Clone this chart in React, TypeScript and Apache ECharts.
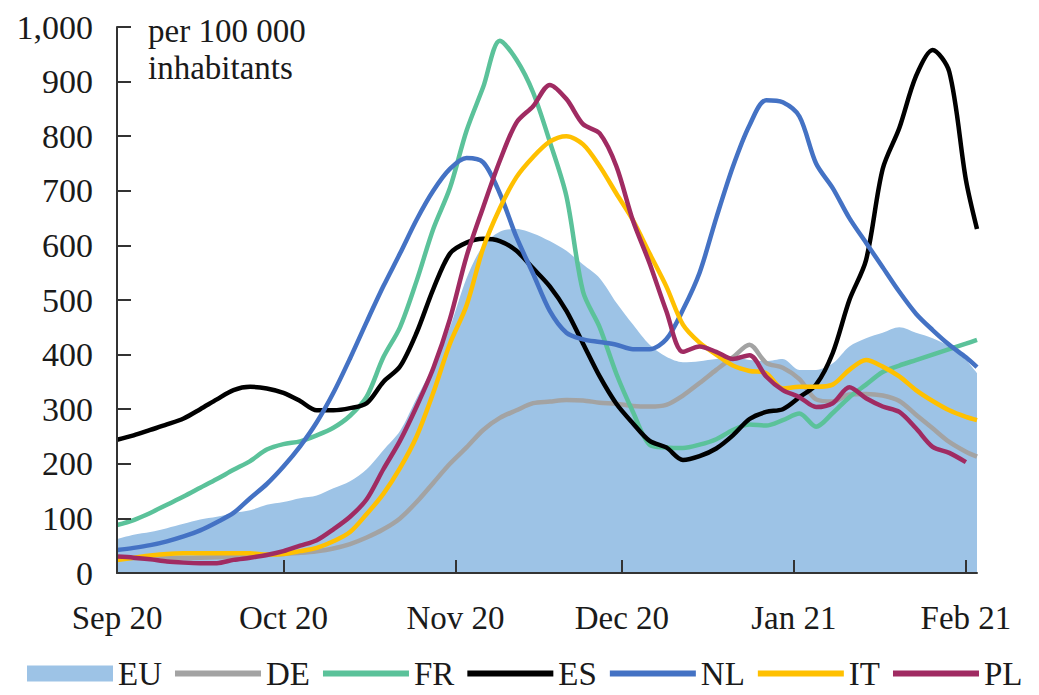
import React, { useEffect, useRef } from 'react';
import * as echarts from 'echarts';

// Sample dates (every 3 days, Sep 1 2020 to Feb 3 2021)
const DATES = [
  '2020-09-01', '2020-09-04', '2020-09-07', '2020-09-10', '2020-09-13', '2020-09-16', '2020-09-19', '2020-09-22', '2020-09-25', '2020-09-28',
  '2020-10-01', '2020-10-04', '2020-10-07', '2020-10-10', '2020-10-13', '2020-10-16', '2020-10-19', '2020-10-22', '2020-10-25', '2020-10-28', '2020-10-31',
  '2020-11-03', '2020-11-06', '2020-11-09', '2020-11-12', '2020-11-15', '2020-11-18', '2020-11-21', '2020-11-24', '2020-11-27', '2020-11-30',
  '2020-12-03', '2020-12-06', '2020-12-09', '2020-12-12', '2020-12-15', '2020-12-18', '2020-12-21', '2020-12-24', '2020-12-27', '2020-12-30',
  '2021-01-02', '2021-01-05', '2021-01-08', '2021-01-11', '2021-01-14', '2021-01-17', '2021-01-20', '2021-01-23', '2021-01-26', '2021-01-29',
  '2021-02-01', '2021-02-03',
];

const EU = [
  62, 70, 75, 82, 90, 98, 103, 110, 115, 125,
  130, 137, 142, 155, 168, 190, 225, 260, 320, 380, 450,
  540, 600, 625, 630, 622, 608, 590, 565, 540, 495,
  455, 418, 396, 386, 388, 392, 395, 390, 388, 392,
  372, 372, 384, 415, 430, 440, 450, 440, 430, 415,
  390, 366,
];
const DE = [
  28, 27, 27, 27, 27, 28, 29, 30, 31, 33,
  35, 37, 40, 45, 53, 65, 80, 100, 130, 165, 200,
  230, 262, 284, 298, 311, 314, 317, 316, 312, 310,
  306, 305, 308, 325, 348, 372, 395, 418, 385, 376,
  355, 318, 314, 327, 328, 325, 315, 290, 265, 240,
  222, 213,
];
const FR = [
  88, 97, 110, 125, 140, 156, 172, 189, 205, 226,
  236, 241, 252, 266, 288, 323, 395, 450, 535, 630, 705,
  810, 890, 975, 940, 880, 790, 690, 515, 450, 365,
  295, 235, 230, 229, 235, 245, 262, 272, 270, 280,
  292, 268, 293, 322, 345, 368, 380, 390, 400, 410,
  420, 427,
];
const ES = [
  244, 252, 262, 272, 283, 300, 318, 335, 341, 338,
  330, 315, 298, 298, 302, 311, 350, 378, 440, 520, 585,
  605, 612, 608, 590, 558, 525, 480, 420, 360, 310,
  274, 242, 230, 207, 214, 228, 252, 282, 295, 300,
  322, 345, 403, 500, 573, 740, 815, 910, 958, 918,
  720, 630,
];
const NL = [
  42, 46, 51, 58, 67, 78, 93, 110, 137, 163,
  195, 232, 276, 330, 393, 460, 525, 585, 647, 700, 740,
  760, 752, 695, 615, 548, 480, 440, 428, 423, 418,
  410, 410, 428, 482, 550, 650, 744, 820, 866, 862,
  836, 750, 705, 650, 605, 560, 515, 475, 445, 418,
  395, 377,
];
const IT = [
  24, 28, 32, 35, 36, 36, 36, 36, 36, 34,
  35, 40, 46, 58, 75, 108, 145, 192, 250, 330, 420,
  490, 595, 668, 725, 762, 790, 800, 785, 745, 695,
  646, 585, 525, 455, 422, 400, 380, 370, 366, 338,
  341, 341, 345, 372, 390, 378, 360, 335, 315, 298,
  286, 280,
];
const PL = [
  30, 28, 25, 21, 19, 18, 18, 24, 28, 33,
  40, 50, 60, 80, 103, 135, 190, 242, 305, 375, 465,
  580, 670, 755, 825, 855, 894, 868, 822, 805, 745,
  645, 567, 480, 405, 415, 405, 392, 399, 360, 335,
  322, 304, 311, 340, 320, 305, 295, 265, 231, 220,
  203, null,
];

const MONTHS = ['Jan', 'Feb', 'Mar', 'Apr', 'May', 'Jun', 'Jul', 'Aug', 'Sep', 'Oct', 'Nov', 'Dec'];

const FONT = 'Liberation Serif, Times New Roman, serif';
const TEXT = '#1a1a1a';
const AXIS = '#333333';
const LINE_ICON = 'path://M0,0H86V6H0Z';

export default function App() {
  const ref = useRef<HTMLDivElement>(null);

  useEffect(() => {
    if (!ref.current) return;
    const chart = echarts.init(ref.current, null, { renderer: 'svg' });
    const pair = (arr: (number | null)[]) => DATES.map((d, i) => [d, arr[i]]);
    const line = (name: string, color: string, arr: (number | null)[]) => ({
      name,
      type: 'line',
      data: pair(arr),
      symbol: 'none',
      smooth: 0.3,
      lineStyle: { width: 4.5, color },
      itemStyle: { color },
      z: 3,
    });

    chart.setOption({
      animation: false,
      backgroundColor: '#ffffff',
      grid: { left: 117, right: 62, top: 27, bottom: 122, containLabel: false, outerBoundsMode: 'none' },
      legend: {
        left: 27,
        top: 657,
        padding: 0,
        itemWidth: 86,
        itemHeight: 16,
        itemGap: 13,
        selectedMode: false,
        textStyle: { fontSize: 33, fontFamily: FONT, color: TEXT },
        data: [
          { name: 'EU', icon: 'rect' },
          { name: 'DE', icon: LINE_ICON },
          { name: 'FR', icon: LINE_ICON },
          { name: 'ES', icon: LINE_ICON },
          { name: 'NL', icon: LINE_ICON },
          { name: 'IT', icon: LINE_ICON },
          { name: 'PL', icon: LINE_ICON },
        ],
      },
      graphic: [
        {
          type: 'text',
          left: 148,
          top: 12,
          z: 20,
          style: {
            text: 'per 100 000\ninhabitants',
            fontSize: 33,
            fontFamily: FONT,
            lineHeight: 37,
            fill: TEXT,
          },
        },
      ],
      xAxis: {
        type: 'time',
        min: '2020-09-01',
        max: '2021-02-03',
        splitNumber: 5,
        z: 10,
        axisLine: { show: true, lineStyle: { color: AXIS, width: 2 } },
        axisTick: { show: true, inside: true, length: 13, lineStyle: { color: AXIS, width: 2 } },
        axisLabel: {
          fontSize: 33,
          fontFamily: FONT,
          color: TEXT,
          margin: 28,
          hideOverlap: false,
          formatter: (val: number) => {
            const d = new Date(val);
            return MONTHS[d.getMonth()] + ' ' + String(d.getFullYear()).slice(2);
          },
        },
        splitLine: { show: false },
      },
      yAxis: {
        type: 'value',
        min: 0,
        max: 1000,
        interval: 100,
        z: 10,
        axisLine: { show: true, onZero: false, lineStyle: { color: AXIS, width: 2 } },
        axisTick: { show: true, inside: true, length: 14, lineStyle: { color: AXIS, width: 2 } },
        axisLabel: {
          fontSize: 34,
          fontFamily: FONT,
          color: TEXT,
          margin: 24,
          formatter: (v: number) => (v >= 1000 ? v.toLocaleString('en-US') : String(v)),
        },
        splitLine: { show: false },
      },
      series: [
        {
          name: 'EU',
          type: 'line',
          data: pair(EU),
          symbol: 'none',
          smooth: 0.3,
          lineStyle: { width: 0, color: '#9DC3E6' },
          itemStyle: { color: '#9DC3E6' },
          areaStyle: { color: '#9DC3E6', opacity: 1 },
          z: 1,
        },
        line('DE', '#A3A3A3', DE),
        line('FR', '#5BC29A', FR),
        line('ES', '#000000', ES),
        line('NL', '#4472C4', NL),
        line('IT', '#FFC000', IT),
        line('PL', '#A02B62', PL),
      ],
    });

    return () => chart.dispose();
  }, []);

  return (
    <div
      ref={ref}
      style={{ position: 'fixed', left: 0, top: 0, width: 1039, height: 695, background: '#ffffff' }}
    />
  );
}
